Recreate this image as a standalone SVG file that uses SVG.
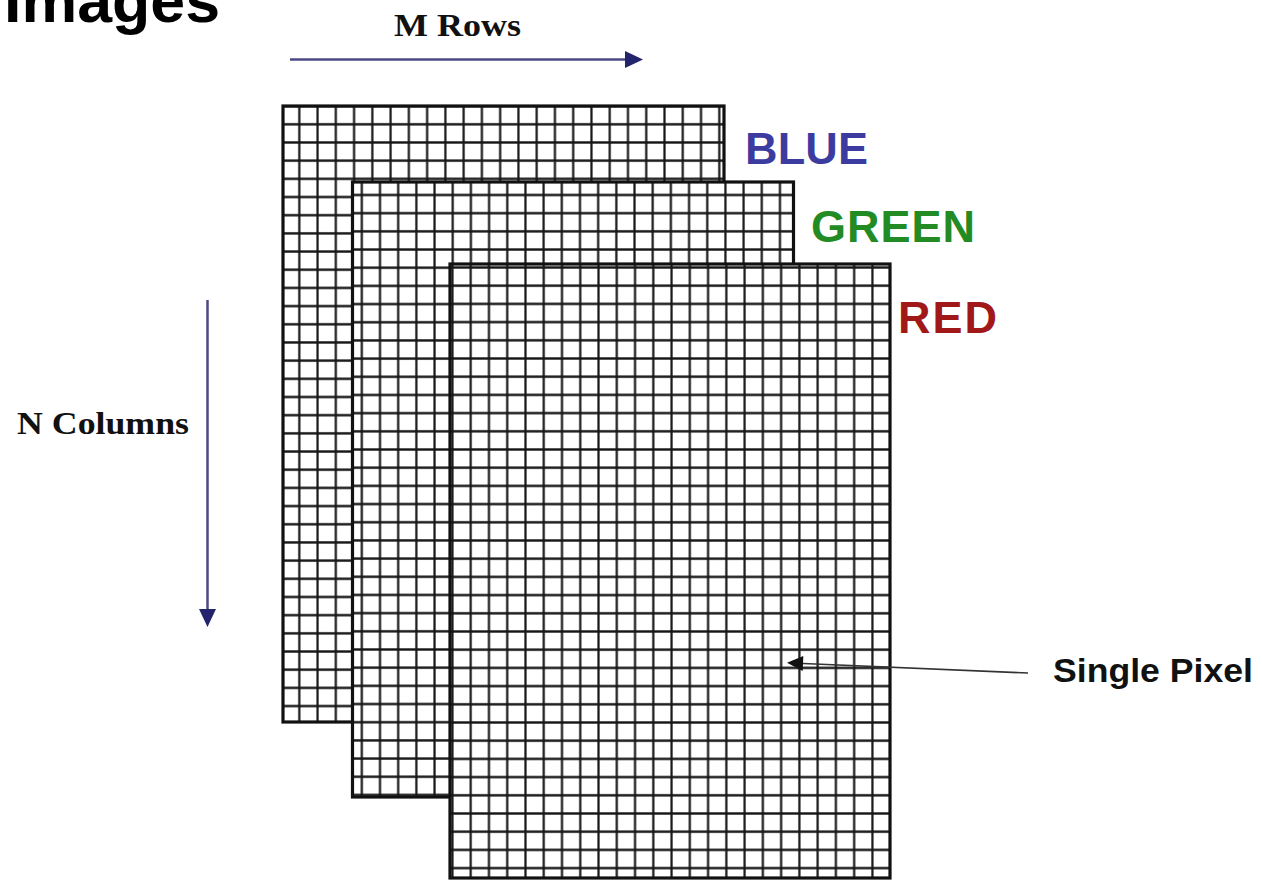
<svg xmlns="http://www.w3.org/2000/svg" width="1262" height="881" viewBox="0 0 1262 881">
  <style>
    .title { font-family: "Liberation Sans", Arial, sans-serif; font-weight: bold; font-size: 62px; fill: #000; }
    .axis { font-family: "Liberation Serif", "Times New Roman", serif; font-weight: bold; font-size: 32px; fill: #111; }
    .chan { font-family: "Liberation Sans", Arial, sans-serif; font-weight: bold; font-size: 45px; }
    .note { font-family: "Liberation Sans", Arial, sans-serif; font-weight: bold; font-size: 34px; fill: #111; }
    .sheet { fill: #fff; }
    .border { fill: none; stroke: #111; stroke-width: 3.2; }
    .grid { stroke: #161616; stroke-width: 2.2; fill: none; }
    .dim { stroke: #4a4a82; stroke-width: 2.5; fill: none; }
    .ptr { stroke: #333; stroke-width: 1.6; fill: none; }
  </style>
  <defs>
    <pattern id="gBlue" patternUnits="userSpaceOnUse" x="290.17" y="115.21" width="18.26" height="18.18">
      <path class="grid" d="M9.13 0V18.18M0 9.09H18.26"/>
    </pattern>
    <pattern id="gGreen" patternUnits="userSpaceOnUse" x="370.91" y="185.91" width="18.18" height="18.18">
      <path class="grid" d="M9.09 0V18.18M0 9.09H18.18"/>
    </pattern>
    <pattern id="gRed" patternUnits="userSpaceOnUse" x="461.57" y="276.6" width="18.26" height="18.2">
      <path class="grid" d="M9.13 0V18.2M0 9.1H18.26"/>
    </pattern>
    <marker id="navyHead" markerUnits="userSpaceOnUse" markerWidth="18" markerHeight="18" refX="0" refY="8.5" orient="auto" overflow="visible">
      <path d="M0 0L18 8.5L0 17z" fill="#23236e"/>
    </marker>
    <marker id="blackHead" markerUnits="userSpaceOnUse" markerWidth="17" markerHeight="16" refX="0" refY="7.5" orient="auto" overflow="visible">
      <path d="M0 0L16 7.5L0 15z" fill="#111"/>
    </marker>
  </defs>

  <rect width="1262" height="881" fill="#fff"/>

  <text id="title" class="title" x="4" y="22" textLength="216" lengthAdjust="spacingAndGlyphs">Images</text>

  <g id="layer-blue">
    <rect class="sheet" x="283" y="106" width="441" height="616"/>
    <rect x="283" y="106" width="441" height="616" fill="url(#gBlue)"/>
    <rect class="border" x="283" y="106" width="441" height="616"/>
  </g>
  <g id="layer-green">
    <rect class="sheet" x="352.5" y="182" width="441" height="615"/>
    <rect x="352.5" y="182" width="441" height="615" fill="url(#gGreen)"/>
    <rect class="border" x="352.5" y="182" width="441" height="615"/>
  </g>
  <g id="layer-red">
    <rect class="sheet" x="450" y="264" width="440" height="614"/>
    <rect x="450" y="264" width="440" height="614" fill="url(#gRed)"/>
    <rect class="border" x="450" y="264" width="440" height="614"/>
  </g>

  <g id="label-blue"><text class="chan" x="745" y="164" fill="#3c3ca0" textLength="123" lengthAdjust="spacing">BLUE</text></g>
  <g id="label-green"><text class="chan" x="811" y="242" fill="#238b23" textLength="164" lengthAdjust="spacing">GREEN</text></g>
  <g id="label-red"><text class="chan" x="898" y="333" fill="#a01818" textLength="99" lengthAdjust="spacing">RED</text></g>

  <g id="label-rows"><text class="axis" x="394" y="36" textLength="127" lengthAdjust="spacingAndGlyphs">M Rows</text></g>
  <g id="label-cols"><text class="axis" x="17" y="434" textLength="172" lengthAdjust="spacingAndGlyphs">N Columns</text></g>
  <g id="label-pixel"><text class="note" x="1053" y="682" textLength="200" lengthAdjust="spacingAndGlyphs">Single Pixel</text></g>

  <g id="connectors">
    <line class="dim" x1="290" y1="59.5" x2="625" y2="59.5" marker-end="url(#navyHead)"/>
    <line class="dim" x1="207.5" y1="300" x2="207.5" y2="609" marker-end="url(#navyHead)"/>
    <line class="ptr" x1="1028" y1="673" x2="803" y2="663.5" marker-end="url(#blackHead)"/>
  </g>
</svg>
